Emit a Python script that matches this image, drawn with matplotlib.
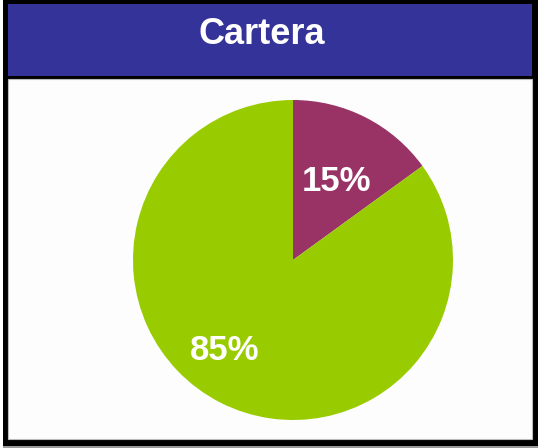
import matplotlib
matplotlib.use('Agg')
import matplotlib.pyplot as plt
from matplotlib.patches import Rectangle

title = "Cartera"
shares = [15, 85]
slice_colors = ["#993366", "#99CC00"]
# label radius (fraction of pie radius) and angle nudge per slice
label_dist = [0.56, 0.71]
label_shift = [-2, -10]

W, H = 538, 448
fig = plt.figure(figsize=(W / 100, H / 100), dpi=100)
fig.patch.set_facecolor("white")

# frame drawn in pixel units, y pointing down
bg = fig.add_axes([0, 0, 1, 1])
bg.set_xlim(0, W)
bg.set_ylim(H, 0)
bg.axis("off")
bg.add_patch(Rectangle((3, 444), 535, 4, color="#9a9a9a", lw=0))
bg.add_patch(Rectangle((3, 0), 535, 446, color="black", lw=0))
bg.add_patch(Rectangle((8, 4), 524, 72, color="#333399", lw=0))
bg.add_patch(Rectangle((8, 79), 524, 360, facecolor="#fdfdfd", edgecolor="#bbbbbb", lw=0.8))
bg.text(262, 35, title, color="white", fontsize=26, fontweight="bold",
        family="Liberation Sans", ha="center", va="center")

# pie: centre (293, 260) px, radius 160 px
cx, cy, r = 293, 260, 160
pax = fig.add_axes([(cx - r) / W, (H - cy - r) / H, 2 * r / W, 2 * r / H])
wedges, _ = pax.pie(shares, colors=slice_colors, startangle=90, counterclock=False,
                    wedgeprops=dict(linewidth=0))
pax.set_xlim(-1, 1)
pax.set_ylim(-1, 1)
pax.axis("off")

import numpy as np
for w, v, d, s in zip(wedges, shares, label_dist, label_shift):
    ang = np.deg2rad((w.theta1 + w.theta2) / 2 + s)
    pax.text(d * np.cos(ang), d * np.sin(ang), f"{v}%", color="white",
             fontsize=25, fontweight="bold", family="Liberation Sans",
             ha="center", va="center")

fig.savefig("out.png", dpi=100)
